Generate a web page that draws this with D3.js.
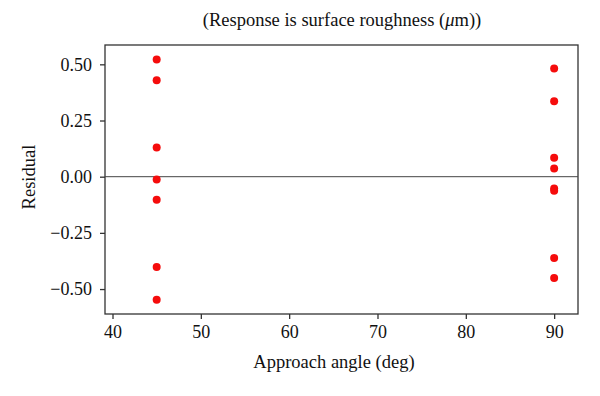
<!DOCTYPE html>
<html><head><meta charset="utf-8">
<script src="https://cdn.jsdelivr.net/npm/d3@7"></script>
<style>body{margin:0;background:#fff}svg{display:block}</style>
</head><body>
<svg id="c" width="600" height="396"></svg>
<script>
const angles45 = [45,45,45,45,45,45,45];
const residuals45 = [0.522,0.429,0.130,-0.013,-0.103,-0.402,-0.548];
const angles90 = [90,90,90,90,90,90,90,90];
const residuals90 = [0.481,0.336,0.084,0.037,-0.053,-0.063,-0.362,-0.451];
const xTicks = [40,50,60,70,80,90];
const yTicks = [0.50,0.25,0.00,-0.25,-0.50];

const pts = angles45.map((a,i)=>({x:a,y:residuals45[i]}))
  .concat(angles90.map((a,i)=>({x:a,y:residuals90[i]})));

const svg = d3.select("#c");
const L=105, R=578, T=45, B=314;
const x = d3.scaleLinear().domain([39.15,92.7]).range([L,R]);
const y = d3.scaleLinear().domain([-0.611,0.586]).range([B,T]);
const font = "'Liberation Serif','Times New Roman',serif";

svg.append("rect").attr("x",L).attr("y",T).attr("width",R-L).attr("height",B-T)
  .attr("fill","none").attr("stroke","#333").attr("stroke-width",1.3);

const xa = svg.append("g").attr("transform",`translate(0,${B})`)
  .call(d3.axisBottom(x).tickValues(xTicks).tickSize(5).tickPadding(6).tickFormat(d3.format("d")));
const ya = svg.append("g").attr("transform",`translate(${L},0)`)
  .call(d3.axisLeft(y).tickValues(yTicks).tickSize(5).tickPadding(8).tickFormat(d=>d3.format(".2f")(d).replace("-","\u2212")));
[xa,ya].forEach(g=>{
  g.select(".domain").remove();
  g.selectAll("line").attr("stroke","#333").attr("stroke-width",1.3);
  g.selectAll("text").attr("fill","#111").style("font-family",font).style("font-size","18px");
});

svg.append("line").attr("x1",L).attr("x2",R).attr("y1",y(0)).attr("y2",y(0))
  .attr("stroke","#444").attr("stroke-width",1);

svg.append("g").selectAll("circle").data(pts).join("circle")
  .attr("cx",d=>x(d.x)).attr("cy",d=>y(d.y)).attr("r",4).attr("fill","#f50c0c");

const title = svg.append("text").attr("x",342).attr("y",26).attr("text-anchor","middle")
  .attr("fill","#111").style("font-family",font).style("font-size","18.5px");
title.append("tspan").text("(Response is surface roughness (");
title.append("tspan").attr("font-style","italic").text("\u03bc");
title.append("tspan").text("m))");

svg.append("text").attr("x",334).attr("y",368).attr("text-anchor","middle")
  .attr("fill","#111").style("font-family",font).style("font-size","18.5px").text("Approach angle (deg)");
svg.append("text").attr("transform","translate(35,177) rotate(-90)").attr("text-anchor","middle")
  .attr("fill","#111").style("font-family",font).style("font-size","18.5px").text("Residual");
</script>
</body></html>
